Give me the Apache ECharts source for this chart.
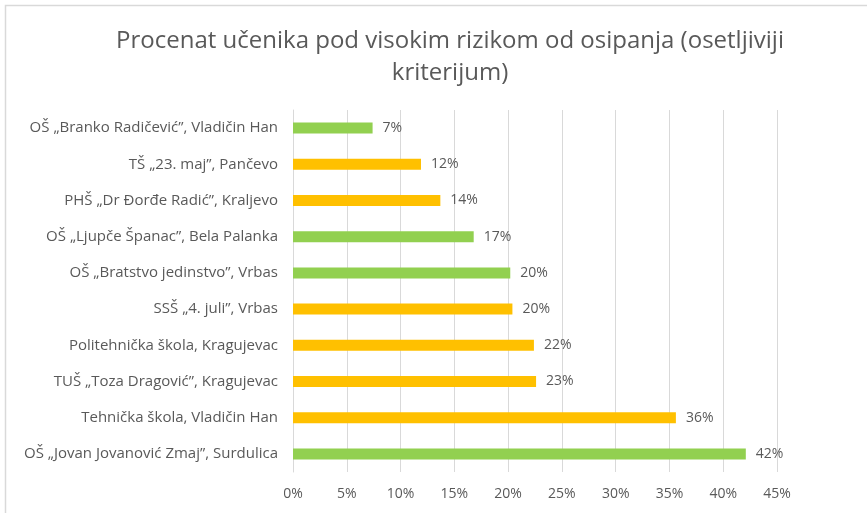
<!DOCTYPE html>
<html>
<head>
<meta charset="utf-8">
<title>Procenat učenika pod visokim rizikom od osipanja</title>
<script src="https://cdn.jsdelivr.net/npm/echarts@6/dist/echarts.min.js"></script>
<style>
  html, body { margin: 0; padding: 0; background: #fff; }
  #main { width: 867px; height: 513px; }
</style>
</head>
<body>
<div id="main"></div>
<script>
// skole, odozgo nadole
var skole = [
  "OŠ „Branko Radičević”, Vladičin Han",
  "TŠ „23. maj”, Pančevo",
  "PHŠ „Dr Đorđe Radić”, Kraljevo",
  "OŠ „Ljupče Španac”, Bela Palanka",
  "OŠ „Bratstvo jedinstvo”, Vrbas",
  "SSŠ „4. juli”, Vrbas",
  "Politehnička škola, Kragujevac",
  "TUŠ „Toza Dragović”, Kragujevac",
  "Tehnička škola, Vladičin Han",
  "OŠ „Jovan Jovanović Zmaj”, Surdulica"
];
// procenat ucenika pod visokim rizikom
var procenat = [7.4, 11.9, 13.7, 16.8, 20.2, 20.4, 22.4, 22.6, 35.6, 42.1];
// nivo skole: osnovna / srednja
var nivo = ["osnovna", "srednja", "srednja", "osnovna", "osnovna", "srednja", "srednja", "srednja", "srednja", "osnovna"];
var xTicks = [0, 5, 10, 15, 20, 25, 30, 35, 40, 45];

var boje = { osnovna: "#92D050", srednja: "#FFC000" };
var font = "'Open Sans', sans-serif";

var myChart = echarts.init(document.getElementById("main"));

var option = {
  animation: false,
  textStyle: { fontFamily: font },
  title: {
    text: "Procenat učenika pod visokim rizikom od osipanja (osetljiviji\nkriterijum)",
    left: 445,
    top: 20,
    textAlign: "center",
    textStyle: {
      fontFamily: font,
      fontSize: 24,
      fontWeight: "normal",
      color: "#595959",
      lineHeight: 32
    }
  },
  graphic: [
    {
      type: "rect",
      shape: { x: 5.5, y: 5.5, width: 1000, height: 1000 },
      style: { fill: "none", stroke: "#d9d9d9", lineWidth: 1.5 },
      silent: true
    }
  ],
  grid: {
    left: 293,
    right: 90,
    top: 110,
    bottom: 41
  },
  xAxis: {
    type: "value",
    min: xTicks[0],
    max: xTicks[xTicks.length - 1],
    interval: 5,
    axisLine: { show: false },
    axisTick: { show: false },
    splitLine: { lineStyle: { color: "#d9d9d9", width: 1 } },
    axisLabel: {
      formatter: "{value}%",
      color: "#595959",
      fontSize: 14,
      margin: 15
    }
  },
  yAxis: {
    type: "category",
    inverse: true,
    data: skole,
    axisLine: { lineStyle: { color: "#d9d9d9", width: 1 } },
    axisTick: { show: false },
    axisLabel: {
      color: "#595959",
      fontSize: 15,
      margin: 15
    }
  },
  series: [
    {
      type: "bar",
      barWidth: 11,
      data: procenat.map(function (v, i) {
        return { value: v, itemStyle: { color: boje[nivo[i]] } };
      }),
      label: {
        show: true,
        position: "right",
        distance: 10,
        color: "#595959",
        fontSize: 14,
        formatter: function (p) {
          return Math.round(p.value) + "%";
        }
      }
    }
  ]
};

myChart.setOption(option);
</script>
</body>
</html>
